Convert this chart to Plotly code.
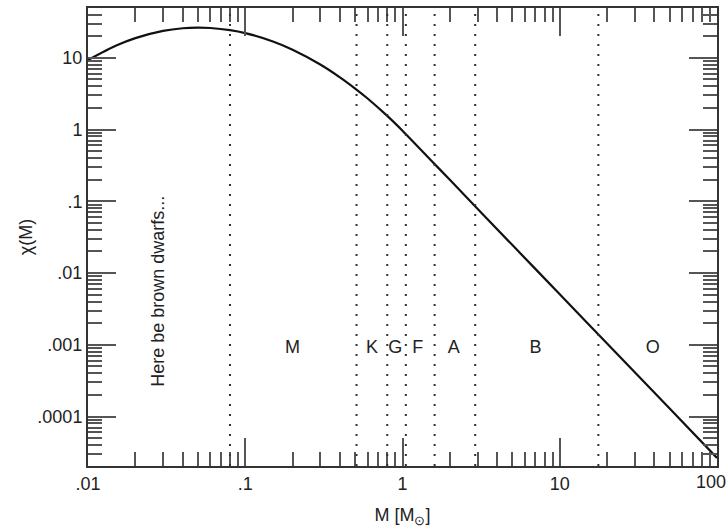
import plotly.graph_objects as go

# Curve
mass = [0.01, 0.015, 0.02, 0.03, 0.04, 0.05, 0.06, 0.08, 0.1, 0.15, 0.2, 0.3,
        0.4, 0.5, 0.6, 0.8, 1, 1.5, 2, 5, 10, 20, 50, 100]
chi = [9.33, 14.7, 18.8, 23.7, 25.8, 26.3, 26.0, 24.3, 22.1, 16.9, 12.97, 8.07,
       5.35, 3.73, 2.71, 1.55, 0.964, 0.383, 0.199, 0.0245, 0.00506, 0.00104,
       1.29e-4, 2.65e-5]

# Spectral-class boundaries (dotted lines)
boundaries = [0.08, 0.51, 0.80, 1.05, 1.6, 2.9, 17.6]

# Spectral-class labels
class_labels = ["M", "K", "G", "F", "A", "B", "O"]
class_x = [0.2, 0.64, 0.9, 1.25, 2.12, 7.0, 39]
class_y = 0.0009

# Ticks
x_tickvals = [0.01, 0.1, 1, 10, 100]
x_ticktext = [".01", ".1", "1", "10", ""]
x_last_label = "100"
y_tickvals = [1e-4, 1e-3, 1e-2, 1e-1, 1, 10]
y_ticktext = [".0001", ".001", ".01", ".1", "1", "10"]

x_minor = [m * 10.0 ** e for e in range(-2, 2) for m in range(2, 10)]
y_minor = [m * 10.0 ** e for e in range(-5, 2) for m in range(2, 10)]

FONT = "Liberation Sans"

fig = go.Figure()

for b in boundaries:
    fig.add_vline(x=b, line=dict(color="#333", width=2, dash="2px,8px"))

fig.add_trace(go.Scatter(x=mass, y=chi, mode="lines",
                         line=dict(color="#111", width=2.2, shape="spline", smoothing=0.6),
                         showlegend=False, hoverinfo="skip"))

fig.add_trace(go.Scatter(x=class_x, y=[class_y] * len(class_x), mode="text",
                         text=class_labels, textposition="middle center",
                         textfont=dict(size=18, color="#222", family=FONT),
                         showlegend=False, hoverinfo="skip"))

fig.add_annotation(x=-1.556, y=-2.25, xref="x", yref="y",
                   text="Here be brown dwarfs...", showarrow=False, textangle=-90,
                   font=dict(size=18, color="#222", family=FONT))

fig.add_annotation(x=1, y=0, xref="paper", yref="paper", xanchor="right", yanchor="top",
                   xshift=11, yshift=-4, text=x_last_label, showarrow=False,
                   font=dict(size=18, color="#222", family=FONT))

axis_common = dict(
    type="log", showgrid=False, zeroline=False,
    showline=True, linecolor="#333", linewidth=2, mirror="ticks",
    ticks="inside", ticklen=28, tickwidth=1.5, tickcolor="#555",
    tickfont=dict(size=18, color="#222", family=FONT),
)

fig.update_xaxes(**axis_common, range=[-2, 2], tickmode="array",
                 tickvals=x_tickvals, ticktext=x_ticktext,
                 minor=dict(tickmode="array", tickvals=x_minor, ticks="inside",
                            ticklen=14, tickwidth=1.5, tickcolor="#555", showgrid=False),
                 title=dict(text="M [M<sub>⊙</sub>]", standoff=16,
                            font=dict(size=18, color="#222", family=FONT)))
fig.update_yaxes(**axis_common, range=[-4.69, 1.694], tickmode="array",
                 tickvals=y_tickvals, ticktext=y_ticktext,
                 minor=dict(tickmode="array", tickvals=y_minor, ticks="inside",
                            ticklen=14, tickwidth=1.5, tickcolor="#555", showgrid=False),
                 title=dict(text="χ(M)", standoff=0,
                            font=dict(size=18, color="#222", family=FONT)))

fig.update_layout(
    width=728, height=529,
    margin=dict(l=88, r=11, t=6, b=63),
    paper_bgcolor="white", plot_bgcolor="white",
    showlegend=False,
)

fig.write_html("out.html")
